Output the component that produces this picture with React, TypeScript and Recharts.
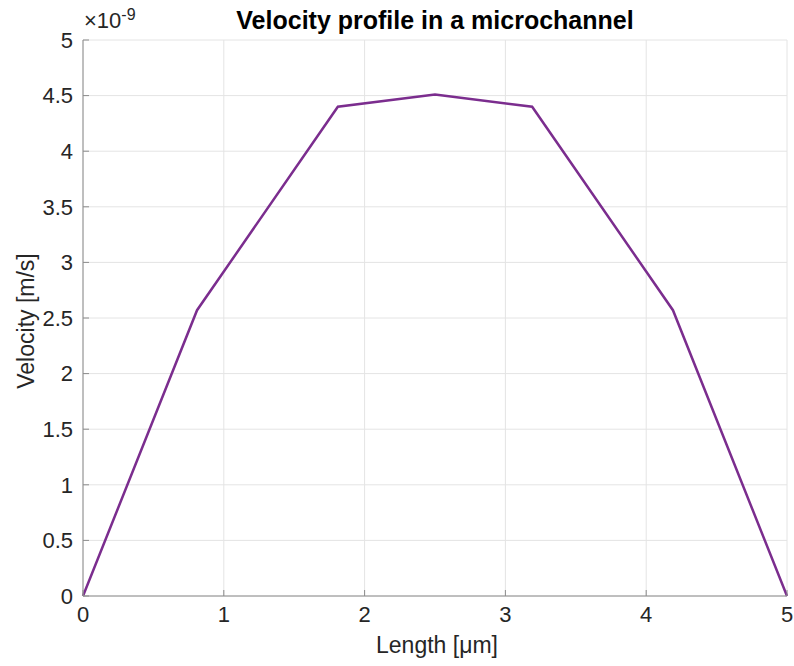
import React from 'react';
import { LineChart, Line, XAxis, YAxis, CartesianGrid } from 'recharts';

// channel position in µm
const lengthUm = [0, 0.81, 1.81, 2.5, 3.19, 4.19, 5];
// velocity, in units of 1e-9 m/s
const velocity = [0, 2.57, 4.4, 4.51, 4.4, 2.57, 0];

const xTicks = [0, 1, 2, 3, 4, 5];
const yTicks = [0, 0.5, 1, 1.5, 2, 2.5, 3, 3.5, 4, 4.5, 5];

const data = lengthUm.map((x, i) => ({ x, v: velocity[i] }));

const font = '"Liberation Sans", Arial, Helvetica, sans-serif';
const boxColor = '#8c8c8c';
const textColor = '#262626';
const lineColor = '#7b2d8e';

const App: React.FC = () => {
  const tickStyle = { fill: textColor, fontSize: 22, fontFamily: font };

  return (
    <div style={{ position: 'relative', width: 794, height: 666, background: '#fff', fontFamily: font }}>
      <style>{'body{margin:0}'}</style>
      <LineChart width={794} height={666} data={data} margin={{ top: 40, right: 7, bottom: 0, left: 0 }}>
        <CartesianGrid stroke="#e4e4e4" strokeWidth={1} />
        <XAxis
          dataKey="x"
          type="number"
          domain={[0, 5]}
          ticks={xTicks}
          height={70}
          stroke={boxColor}
          tickSize={-6}
          tickMargin={16}
          tick={tickStyle}
        />
        <XAxis
          xAxisId="top"
          orientation="top"
          dataKey="x"
          type="number"
          domain={[0, 5]}
          ticks={xTicks}
          height={0}
          stroke={boxColor}
          tickSize={-6}
          tick={false}
        />
        <YAxis
          type="number"
          domain={[0, 5]}
          ticks={yTicks}
          width={83}
          stroke={boxColor}
          tickSize={-6}
          tickMargin={16}
          tick={tickStyle}
        />
        <YAxis
          yAxisId="right"
          orientation="right"
          type="number"
          domain={[0, 5]}
          ticks={yTicks}
          width={0}
          stroke={boxColor}
          tickSize={-6}
          tick={false}
        />
        <Line
          type="linear"
          dataKey="v"
          stroke={lineColor}
          strokeWidth={2.5}
          dot={false}
          isAnimationActive={false}
        />
      </LineChart>

      {/* title */}
      <div style={{ position: 'absolute', left: 0, width: 870, top: 6, textAlign: 'center', fontSize: 25, fontWeight: 'bold', color: '#000' }}>
        Velocity profile in a microchannel
      </div>
      {/* exponent */}
      <div style={{ position: 'absolute', left: 84, top: 8, fontSize: 22, color: textColor, lineHeight: '26px' }}>
        ×10<sup style={{ fontSize: 16, verticalAlign: 'top', position: 'relative', top: -6 }}>-9</sup>
      </div>
      {/* x label */}
      <div style={{ position: 'absolute', left: 0, width: 874, top: 632, textAlign: 'center', fontSize: 23, color: textColor }}>
        Length [μm]
      </div>
      {/* y label */}
      <div
        style={{
          position: 'absolute',
          left: 26,
          top: 321,
          fontSize: 23,
          color: textColor,
          whiteSpace: 'nowrap',
          transform: 'translate(-50%, -50%) rotate(-90deg)',
        }}
      >
        Velocity [m/s]
      </div>
    </div>
  );
};

export default App;
